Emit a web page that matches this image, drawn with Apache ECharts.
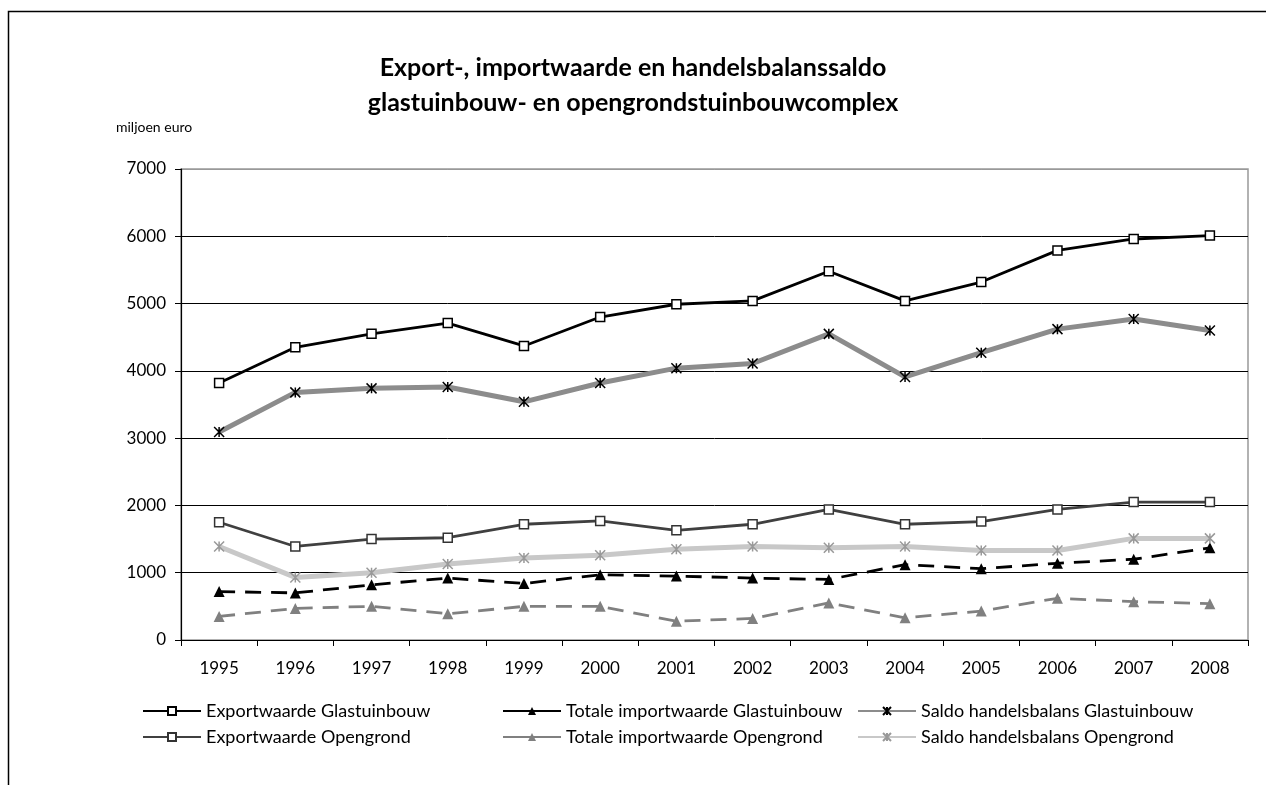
<!DOCTYPE html>
<html>
<head>
<meta charset="utf-8">
<title>Export-, importwaarde en handelsbalanssaldo</title>
<script src="https://cdn.jsdelivr.net/npm/echarts@6/dist/echarts.min.js"></script>
<style>
	html, body {
		margin: 0;
		padding: 0;
		background: #fff;
	}

	#main {
		width: 1266px;
		height: 785px;
	}
</style>
</head>
<body>
<div id="main"></div>
<script>
	// jaren (x-as)
	const years = ['1995', '1996', '1997', '1998', '1999', '2000', '2001', '2002', '2003', '2004', '2005', '2006', '2007', '2008']

	// glastuinbouw
	const exportGlas = [3820, 4350, 4550, 4710, 4370, 4800, 4990, 5040, 5480, 5040, 5320, 5790, 5960, 6010]
	const importGlas = [720, 700, 820, 920, 840, 970, 950, 920, 900, 1120, 1060, 1140, 1200, 1370]
	const saldoGlas = [3090, 3680, 3740, 3760, 3540, 3820, 4040, 4110, 4550, 3910, 4270, 4620, 4770, 4600]

	// opengrond
	const exportOpen = [1750, 1390, 1500, 1520, 1720, 1770, 1630, 1720, 1940, 1720, 1760, 1940, 2050, 2050]
	const importOpen = [350, 470, 500, 390, 500, 500, 280, 320, 550, 330, 430, 620, 570, 540]
	const saldoOpen = [1390, 930, 1000, 1130, 1220, 1260, 1350, 1390, 1370, 1390, 1330, 1330, 1510, 1510]

	// y-as
	const yTicks = [0, 1000, 2000, 3000, 4000, 5000, 6000, 7000]

	const font = 'Lato, "Open Sans", sans-serif'

	// sterretje (x met verticale streep)
	const starPath = 'path://M0,0L10,10M10,0L0,10M5,0L5,10'

	let myChart = echarts.init(document.getElementById('main'))

	const makeLine = (name, data, color, width, dashed, symbol, symbolSize, itemStyle) => {
		return {
			name: name,
			type: 'line',
			data: data,
			symbol: symbol,
			symbolSize: symbolSize,
			showAllSymbol: true,
			animation: false,
			lineStyle: {
				color: color,
				width: width,
				type: dashed ? [16, 10] : 'solid'
			},
			itemStyle: itemStyle,
			emphasis: {
				disabled: true
			}
		}
	}

	const legendBase = {
		orient: 'vertical',
		top: 697,
		itemWidth: 58,
		itemHeight: 10,
		itemGap: 8,
		textStyle: {
			fontFamily: font,
			fontSize: 18,
			color: '#000'
		}
	}

	let option = {
		backgroundColor: '#fff',
		animation: false,
		title: {
			text: 'Export-, importwaarde en handelsbalanssaldo\nglastuinbouw- en opengrondstuinbouwcomplex',
			left: 'center',
			top: 45,
			textStyle: {
				fontFamily: font,
				fontSize: 25,
				fontWeight: 'bold',
				lineHeight: 35,
				color: '#000'
			}
		},
		graphic: [{
			type: 'rect',
			shape: { x: 8.5, y: 11.5, width: 1300, height: 800 },
			style: { fill: 'none', stroke: '#000', lineWidth: 1.5 },
			silent: true
		}, {
			type: 'text',
			left: 116,
			top: 120,
			style: {
				text: 'miljoen euro',
				font: '14px ' + font,
				fill: '#000'
			}
		}],
		grid: {
			left: 181,
			top: 169,
			right: 18,
			bottom: 145,
			show: true,
			borderColor: '#999',
			borderWidth: 1.5
		},
		legend: [
			Object.assign({}, legendBase, { left: 137, data: ['Exportwaarde Glastuinbouw', 'Exportwaarde Opengrond'] }),
			Object.assign({}, legendBase, {
				left: 497,
				data: [
					{ name: 'Totale importwaarde Glastuinbouw', lineStyle: { type: 'solid' } },
					{ name: 'Totale importwaarde Opengrond', lineStyle: { type: 'solid' } }
				]
			}),
			Object.assign({}, legendBase, { left: 852, data: ['Saldo handelsbalans Glastuinbouw', 'Saldo handelsbalans Opengrond'] })
		],
		xAxis: {
			type: 'category',
			data: years,
			boundaryGap: true,
			axisLine: {
				lineStyle: { color: '#000', width: 1.2 }
			},
			axisTick: {
				show: true,
				interval: 0,
				length: 6,
				lineStyle: { color: '#000' }
			},
			axisLabel: {
				margin: 20,
				fontFamily: font,
				fontSize: 17,
				color: '#000'
			},
			splitLine: { show: false }
		},
		yAxis: {
			type: 'value',
			min: yTicks[0],
			max: yTicks[yTicks.length - 1],
			interval: 1000,
			axisLine: {
				show: true,
				lineStyle: { color: '#000', width: 1.2 }
			},
			axisTick: {
				show: true,
				length: 6,
				lineStyle: { color: '#000' }
			},
			axisLabel: {
				margin: 15,
				fontFamily: font,
				fontSize: 17,
				color: '#000',
				formatter: (v) => String(v)
			},
			splitLine: {
				show: true,
				lineStyle: {
					color: ['#000', '#000', '#000', '#000', '#000', '#000', '#000', '#999'],
					width: 1
				}
			}
		},
		series: [
			makeLine('Exportwaarde Glastuinbouw', exportGlas, '#000', 2.8, false, 'rect', 9,
				{ color: '#fff', borderColor: '#000', borderWidth: 1.5 }),
			makeLine('Totale importwaarde Glastuinbouw', importGlas, '#000', 2.8, true, 'triangle', 11,
				{ color: '#000', borderColor: '#000', borderWidth: 0 }),
			makeLine('Saldo handelsbalans Glastuinbouw', saldoGlas, '#8c8c8c', 5, false, starPath, 10,
				{ color: '#fff', borderColor: '#000', borderWidth: 1.5 }),
			makeLine('Exportwaarde Opengrond', exportOpen, '#404040', 2.8, false, 'rect', 9,
				{ color: '#fff', borderColor: '#333', borderWidth: 1.5 }),
			makeLine('Totale importwaarde Opengrond', importOpen, '#808080', 2.8, true, 'triangle', 11,
				{ color: '#808080', borderColor: '#808080', borderWidth: 0 }),
			makeLine('Saldo handelsbalans Opengrond', saldoOpen, '#c8c8c8', 5, false, starPath, 10,
				{ color: '#fff', borderColor: '#999', borderWidth: 1.5 })
		]
	}

	myChart.setOption(option)
</script>
</body>
</html>
